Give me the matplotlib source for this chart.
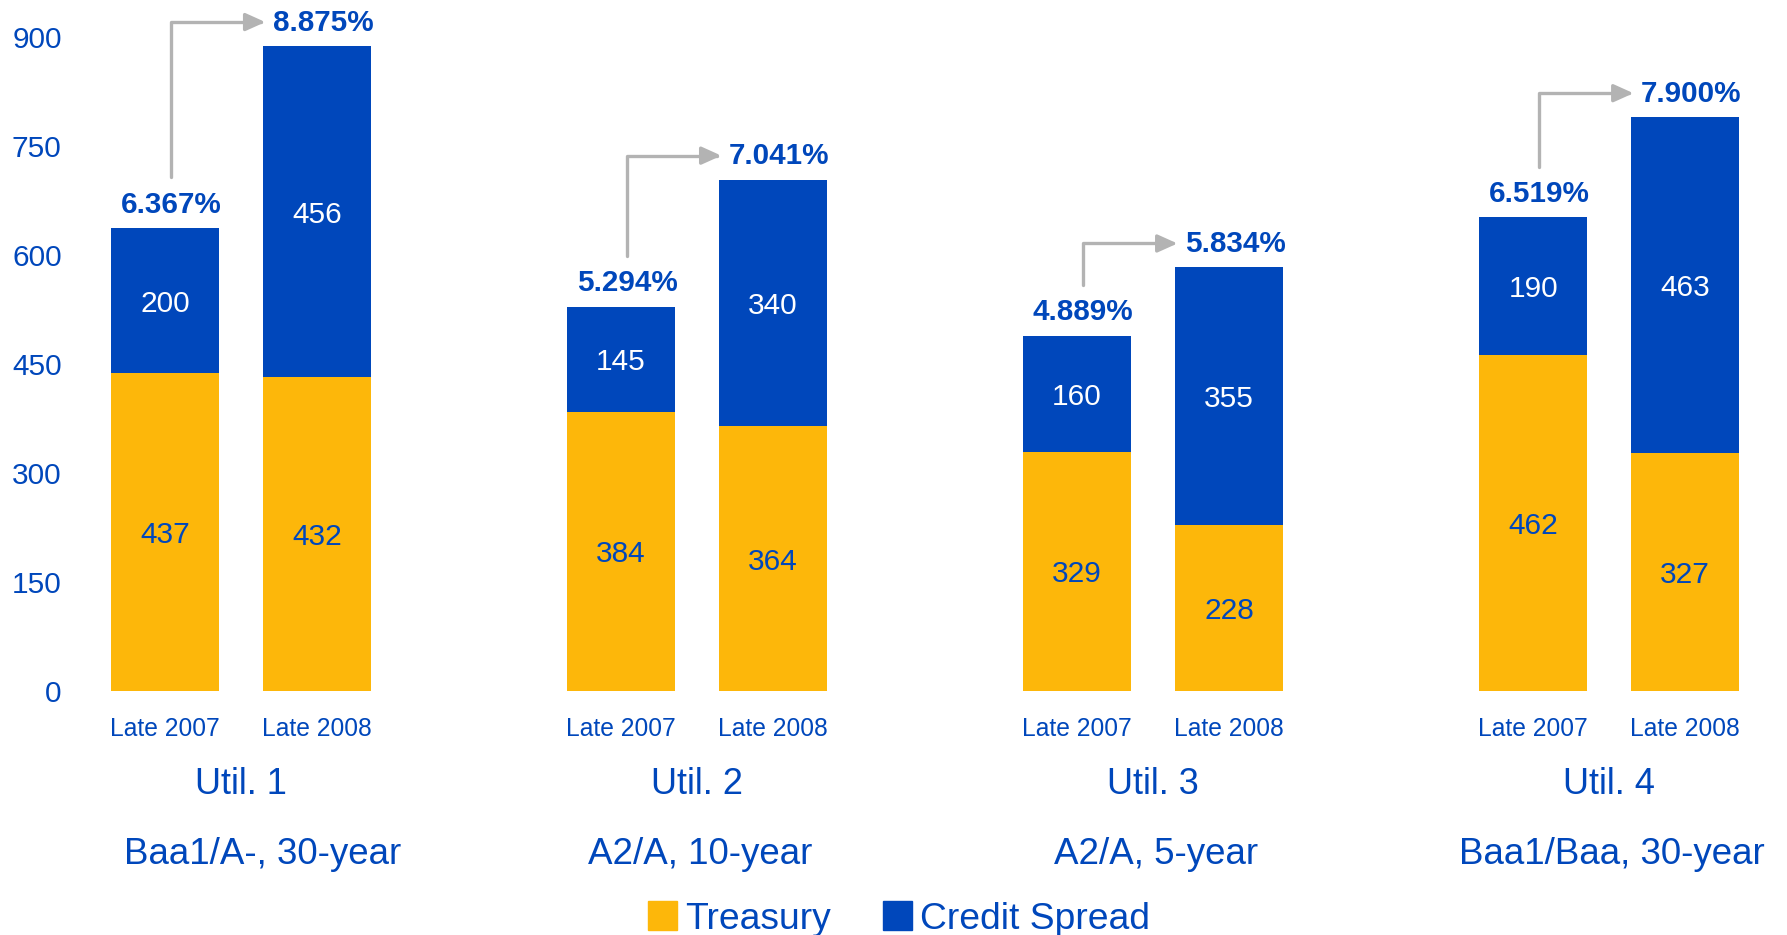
import matplotlib
matplotlib.use("Agg")
import matplotlib.pyplot as plt
from matplotlib.patches import Patch

plt.rcParams['font.family'] = ['Liberation Sans', 'DejaVu Sans']

groups = ['Util. 1', 'Util. 2', 'Util. 3', 'Util. 4']
subtitles = ['Baa1/A-, 30-year', 'A2/A, 10-year', 'A2/A, 5-year', 'Baa1/Baa, 30-year']
periods = ['Late 2007', 'Late 2008']
treasury = [[437, 432], [384, 364], [329, 228], [462, 327]]
spread = [[200, 456], [145, 340], [160, 355], [190, 463]]
yields = [['6.367%', '8.875%'], ['5.294%', '7.041%'],
          ['4.889%', '5.834%'], ['6.519%', '7.900%']]
yticks = [0, 150, 300, 450, 600, 750, 900]

BLUE = '#0047BB'
YELLOW = '#FDB70A'
GREY = '#B3B3B3'

W, H = 1787, 935
fig = plt.figure(figsize=(W / 100, H / 100), dpi=100)
# axes placed so that 1 x-unit = 152 px and y=0 sits at 690 px from the top
ax = fig.add_axes([70 / W, (H - 690.7) / H, 1 - 70 / W, 689.7 / H])
ax.set_xlim(-0.625, 10.67)
ax.set_ylim(0, 950)
for s in ax.spines.values():
    s.set_visible(False)
ax.set_xticks([])
ax.set_yticks(yticks)
ax.set_yticklabels([str(t) for t in yticks], fontsize=21.5, color=BLUE)
ax.tick_params(axis='y', length=0, pad=6)

bw = 0.71
for g in range(len(groups)):
    xs = [3 * g, 3 * g + 1]
    ax.bar(xs, treasury[g], width=bw, color=YELLOW)
    ax.bar(xs, spread[g], width=bw, bottom=treasury[g], color=BLUE)
    tops = []
    for i, x in enumerate(xs):
        t, s = treasury[g][i], spread[g][i]
        ax.text(x, t / 2, str(t), ha='center', va='center_baseline', fontsize=21.5, color=BLUE)
        ax.text(x, t + s / 2, str(s), ha='center', va='center_baseline', fontsize=21.5,
                color='white')
        ax.text(x + 0.04, t + s + 32, yields[g][i], ha='center', va='center',
                fontsize=21.3, fontweight='bold', color=BLUE)
        ax.text(x, -53, periods[i], ha='center', va='center', fontsize=17.7,
                color=BLUE, clip_on=False)
        tops.append(t + s)
    # arrow from the 2007 yield up and across to the 2008 yield
    ax.annotate('', xy=(xs[1] - 0.34, tops[1] + 33), xytext=(xs[0] + 0.04, tops[0] + 70),
                arrowprops=dict(arrowstyle='-|>,head_length=0.8,head_width=0.36',
                                connectionstyle='angle,angleA=90,angleB=0,rad=0',
                                color=GREY, lw=2.4, mutation_scale=15,
                                shrinkA=0, shrinkB=0))
    cx = 3 * g + 0.5
    ax.text(cx, -129, groups[g], ha='center', va='center', fontsize=26,
            color=BLUE, clip_on=False)
    nudge = 0.145 if g == 0 else 0.02
    ax.text(cx + nudge, -225, subtitles[g], ha='center', va='center', fontsize=26.5,
            color=BLUE, clip_on=False)

handles = [Patch(color=YELLOW, label='Treasury'), Patch(color=BLUE, label='Credit Spread')]
leg = fig.legend(handles=handles, loc='center left', bbox_to_anchor=(648 / W, 1 - 919 / H),
                 ncol=2, frameon=False, fontsize=26.8, handlelength=0.78, handleheight=0.8,
                 handletextpad=0.22, columnspacing=1.4, borderpad=0, borderaxespad=0)
for t in leg.get_texts():
    t.set_color(BLUE)

fig.savefig('out.png', dpi=100)
